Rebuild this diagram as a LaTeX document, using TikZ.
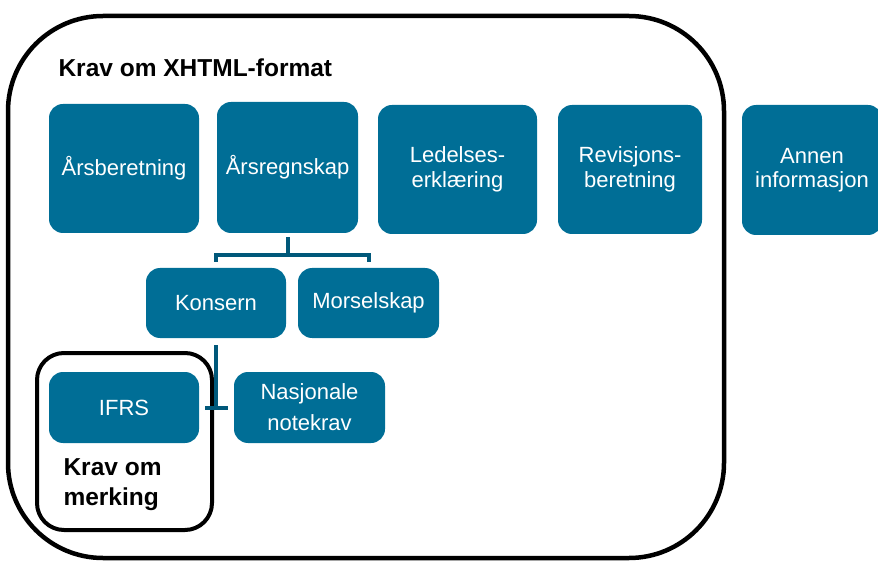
\documentclass[tikz,border=0pt]{standalone}
\usepackage{fontspec}
\setmainfont{Liberation Sans}
\definecolor{blokkblaa}{RGB}{0,110,150}
\definecolor{linjeblaa}{RGB}{0,88,122}
\tikzset{
  blokk/.style={fill=blokkblaa, text=white, rounded corners=14pt, inner sep=0pt,
    align=center, font=\fontsize{22}{24.5}\selectfont},
  kobling/.style={draw=linjeblaa, line width=4pt},
  ramme/.style={draw=black, line width=4.5pt},
  overskrift/.style={font=\fontsize{24.5}{30}\selectfont\bfseries, align=left}
}
\begin{document}
\begin{tikzpicture}[x=1pt, y=-1pt]
      \useasboundingbox (0,0) rectangle (878,561);
      \draw[ramme, rounded corners=95pt] (8,16) rectangle (724,558);
      \draw[ramme, line width=4pt, rounded corners=27pt] (37,353) rectangle (212,530);
      \node[overskrift, anchor=west] (xhtml) at (55,68) {Krav om XHTML-format};
      \node[blokk, minimum width=150pt, minimum height=129pt] (aarsberetning) at (124,168.5) {Årsberetning};
      \node[blokk, minimum width=141pt, minimum height=131pt] (aarsregnskap) at (287.5,167.5) {Årsregnskap};
      \node[blokk, minimum width=159pt, minimum height=129pt] (ledelse) at (457.5,169.5) {Ledelses-\\erklæring};
      \node[blokk, minimum width=144pt, minimum height=129pt] (revisjon) at (630,169.5) {Revisjons-\\beretning};
      \node[blokk, minimum width=140pt, minimum height=130pt] (annen) at (812,170) {Annen\\informasjon};
      \node[blokk, minimum width=140pt, minimum height=70pt] (konsern) at (216,303) {Konsern};
      \node[blokk, minimum width=141pt, minimum height=70pt] (morselskap) at (368.5,303) {Morselskap};
      \node[blokk, minimum width=150pt, minimum height=71pt] (ifrs) at (124,407.5) {IFRS};
      \node[blokk, minimum width=151pt, minimum height=71pt, font=\fontsize{22}{31}\selectfont] (nasjonale) at (309.5,407.5) {Nasjonale\\notekrav};
      \node[overskrift, anchor=west] (merking) at (60,485) {Krav om\\merking};
      \coordinate (gren) at (aarsregnskap.south |- 0,255);
      \draw[kobling] ([yshift=-4pt]aarsregnskap.south) -- (gren);
      \draw[kobling] ([yshift=6pt]konsern.north) |- (gren) -| ([yshift=6pt]morselskap.north);
      \draw[kobling] ([yshift=-7pt]konsern.south) -- (konsern.south |- ifrs.east);
      \draw[kobling] ([xshift=6pt]ifrs.east) -- ([xshift=-6pt]nasjonale.west);
    \end{tikzpicture}
\end{document}
